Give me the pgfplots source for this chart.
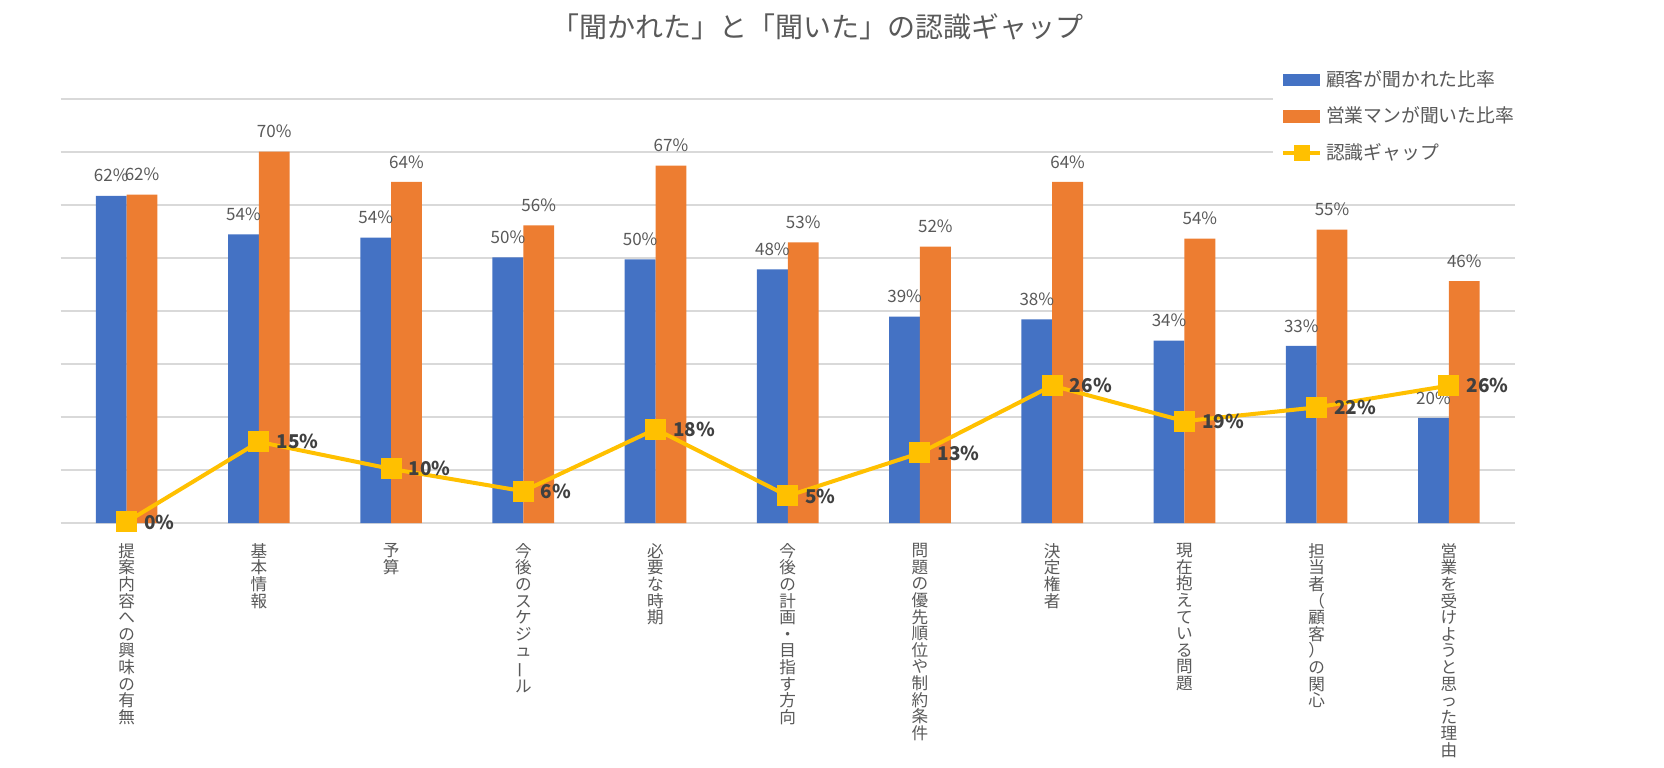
\documentclass[border=0pt]{standalone}
\usepackage{fontspec}
\setmainfont{Noto Sans CJK JP}
\usepackage{graphicx}
\usepackage{pgfplots}
\pgfplotsset{compat=1.18}
\definecolor{cBlue}{HTML}{4472C4}
\definecolor{cOrange}{HTML}{ED7D31}
\definecolor{cYellow}{HTML}{FFC000}
\definecolor{cText}{HTML}{595959}
\definecolor{cBold}{HTML}{404040}
\definecolor{cGrid}{HTML}{D9D9D9}
\newcommand\fs[2]{\fontsize{#1}{#2}\selectfont}
\newcommand\vbar{\rotatebox[origin=c]{90}{ー}}
\begin{document}
\begin{tikzpicture}
\useasboundingbox (0,0) rectangle (832bp,384bp);
\node[font=\fs{14bp}{16bp}, text=cText] at (408.5bp,370.75bp) {「聞かれた」と「聞いた」の認識ギャップ};
\begin{axis}[
 at={(30.25bp,122.5bp)}, anchor=south west,
 scale only axis, width=727.25bp, height=212.15bp,
 xmin=-0.5, xmax=10.5, ymin=0, ymax=80,
 clip=false,
 axis line style={draw=none},
 major tick length=0pt,
 ytick={0,10,...,80}, yticklabels={},
 ymajorgrids, grid style={cGrid, line width=1bp},
 xtick={0,...,10},
 xticklabels={
  {提\\案\\内\\容\\へ\\の\\興\\味\\の\\有\\無},
  {基\\本\\情\\報},
  {予\\算},
  {今\\後\\の\\ス\\ケ\\ジ\\ュ\\\vbar\\ル},
  {必\\要\\な\\時\\期},
  {今\\後\\の\\計\\画\\・\\目\\指\\す\\方\\向},
  {問\\題\\の\\優\\先\\順\\位\\や\\制\\約\\条\\件},
  {決\\定\\権\\者},
  {現\\在\\抱\\え\\て\\い\\る\\問\\題},
  {担\\当\\者\\（\\顧\\客\\）\\の\\関\\心},
  {営\\業\\を\\受\\け\\よ\\う\\と\\思\\っ\\た\\理\\由}},
 xticklabel style={anchor=north, align=center, font=\fs{8.3bp}{8.3bp}, text=cText, inner sep=0pt, yshift=-10bp},
 legend style={at={(0.833,1.091)}, anchor=north west, draw=none, fill=white,
   font=\fs{9.4bp}{11bp}, text=cText, row sep=4.8bp, inner xsep=4.3bp, inner ysep=3bp},
 legend cell align=left,
]
\addplot[ybar, bar width=0.233, bar shift=-0.1165, fill=cBlue, draw=none,
  nodes near coords, point meta=explicit symbolic,
  every node near coord/.append style={anchor=center, xshift=-7.7bp, yshift=10bp, font=\fs{8.5bp}{10bp}, text=cText},
  legend image code/.code={\fill[cBlue] (0bp,-3.2bp) rectangle (18.5bp,3.2bp);}]
 coordinates {(0,61.7)[62\%] (1,54.4)[54\%] (2,53.8)[54\%] (3,50.1)[50\%] (4,49.7)[50\%] (5,47.8)[48\%]
  (6,38.9)[39\%] (7,38.4)[38\%] (8,34.4)[34\%] (9,33.4)[33\%] (10,19.8)[20\%]};
\addlegendentry{顧客が聞かれた比率}
\addplot[ybar, bar width=0.233, bar shift=0.1165, fill=cOrange, draw=none,
  nodes near coords, point meta=explicit symbolic,
  every node near coord/.append style={anchor=center, xshift=7.7bp, yshift=10bp, font=\fs{8.5bp}{10bp}, text=cText},
  legend image code/.code={\fill[cOrange] (0bp,-3.2bp) rectangle (18.5bp,3.2bp);}]
 coordinates {(0,61.9)[62\%] (1,70.0)[70\%] (2,64.3)[64\%] (3,56.1)[56\%] (4,67.4)[67\%] (5,52.9)[53\%]
  (6,52.1)[52\%] (7,64.3)[64\%] (8,53.6)[54\%] (9,55.3)[55\%] (10,45.6)[46\%]};
\addlegendentry{営業マンが聞いた比率}
\addplot[cYellow, line width=2bp, mark=square*, mark size=4.25bp,
  mark options={fill=cYellow, draw=none},
  nodes near coords, point meta=explicit symbolic,
  every node near coord/.append style={anchor=west, xshift=4.5bp, font=\bfseries\fs{9.5bp}{11bp}, text=cBold},
  legend image code/.code={\draw[cYellow, line width=2bp] (0bp,0bp) -- (18.5bp,0bp); \fill[cYellow] (6.25bp,-3bp) rectangle (12.25bp,3bp);}]
 coordinates {(0,0.2)[0\%] (1,15.3)[15\%] (2,10.2)[10\%] (3,6.0)[6\%] (4,17.7)[18\%] (5,5.1)[5\%]
  (6,13.2)[13\%] (7,25.9)[26\%] (8,19.2)[19\%] (9,21.8)[22\%] (10,25.9)[26\%]};
\addlegendentry{認識ギャップ}
\end{axis}
\end{tikzpicture}
\end{document}
